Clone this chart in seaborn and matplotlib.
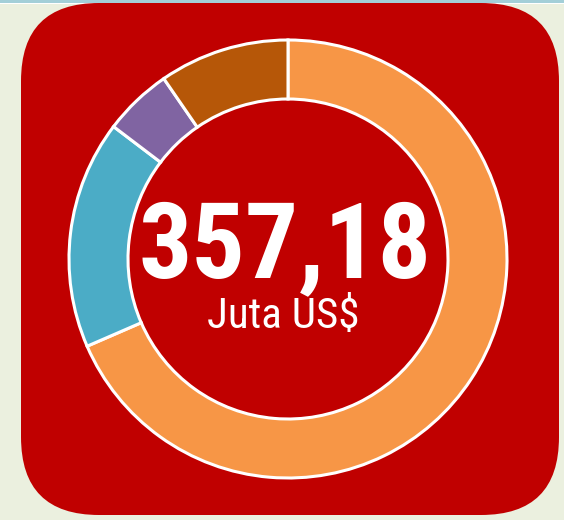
import matplotlib
matplotlib.use("Agg")
import matplotlib.pyplot as plt
import seaborn as sns
from matplotlib import font_manager
from matplotlib.patches import FancyBboxPatch, Rectangle

# segment values (juta US$), clockwise from 12 o'clock
segments = ["Orange", "Teal", "Purple", "Brown"]
values = [244.6, 60.2, 18.1, 34.28]
colors = ["#F79646", "#4BACC6", "#8064A2", "#B65708"]
total_label = "357,18"
unit_label = "Juta US$"

sns.set_style("white")

# look for a narrow / condensed face, the reference uses one
installed = {f.name for f in font_manager.fontManager.ttflist}
narrow = None
for cand in ["Roboto Condensed", "Liberation Sans Narrow", "Open Sans Condensed",
             "DejaVu Sans Condensed", "Noto Sans Condensed"]:
    if cand in installed:
        narrow = cand
        break
if narrow is None:
    for f in font_manager.fontManager.ttflist:
        if "ondensed" in f.fname or "Narrow" in f.fname:
            narrow = f.name
            break
if narrow is None:
    narrow = "DejaVu Sans"
plt.rcParams['font.family'] = [narrow, 'DejaVu Sans']
condensed = narrow != "DejaVu Sans"

W, H = 564, 520
fig = plt.figure(figsize=(W / 100, H / 100), dpi=100, facecolor="#EBF0DF")
ax = fig.add_axes([0, 0, 1, 1])

# thin blue strip on top
ax.add_patch(Rectangle((0, H - 3), W, 3, color="#A3CFD8", lw=0, zorder=0))
ax.add_patch(Rectangle((0, H - 4), W, 1, color="white", lw=0, zorder=0))

# red rounded panel
panel = FancyBboxPatch((21, 5), 538, 512, boxstyle="round,pad=0,rounding_size=78",
                       facecolor="#C00000", edgecolor="none", zorder=1)
ax.add_patch(panel)

wedges, _ = ax.pie(values, colors=colors, startangle=90, counterclock=False,
                   center=(288, 261), radius=219, frame=True,
                   wedgeprops=dict(width=59, edgecolor="white", linewidth=2.2))
for w in wedges:
    w.set_zorder(2)
ax.set_xlim(0, W)
ax.set_ylim(0, H)
ax.set_aspect("equal")
ax.axis("off")

big = 76 if condensed else 56
small = 31 if condensed else 24
ax.text(285, 243, total_label, ha="center", va="baseline", color="white",
        fontsize=big, fontweight="bold", zorder=3)
ax.text(283, 192, unit_label, ha="center", va="baseline", color="white",
        fontsize=small, zorder=3)

fig.savefig("out.png", dpi=100, facecolor=fig.get_facecolor())
